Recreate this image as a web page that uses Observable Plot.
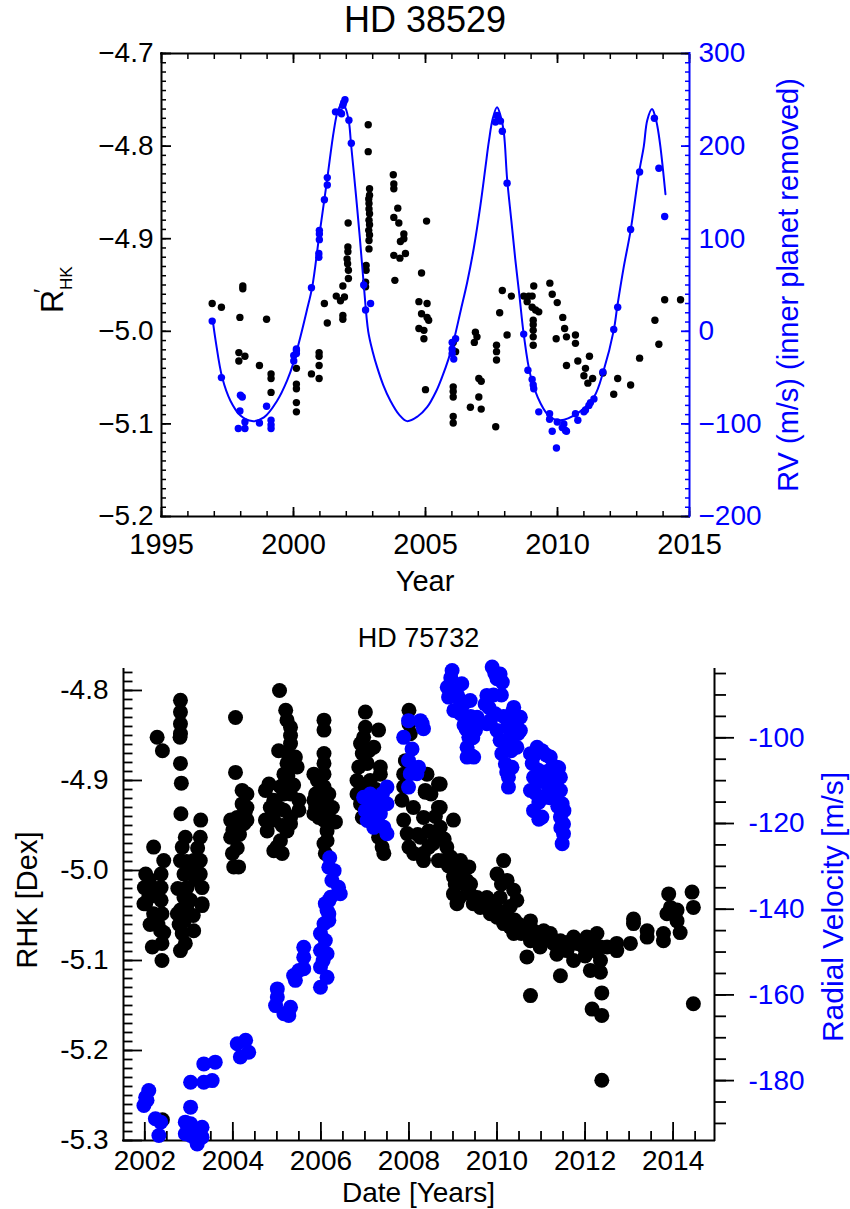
<!DOCTYPE html>
<html>
<head>
<meta charset="utf-8">
<script src="https://cdn.jsdelivr.net/npm/d3@7"></script>
<script src="https://cdn.jsdelivr.net/npm/@observablehq/plot@0.6"></script>
<style>
  html, body { margin: 0; padding: 0; background: #fff; overflow: hidden; }
  #page { position: relative; width: 850px; height: 1209px; font-family: "Liberation Sans", Arial, Helvetica, sans-serif; }
  .panel { position: absolute; left: 0; }
  .title { position: absolute; left: 0; text-align: center; color: #000; white-space: nowrap; }
</style>
</head>
<body>
<div id="page">
  <div class="panel" id="p1" style="top:0px;"></div>
  <div class="panel" id="p2" style="top:600px;"></div>
  <div class="title" id="t1" style="top:2px;width:850px;font-size:36px;line-height:36px;">HD 38529</div>
  <div class="title" id="t2" style="top:625px;width:837px;font-size:27px;line-height:27px;">HD 75732</div>
</div>
<script>
const FONT = '"Liberation Sans", Arial, Helvetica, sans-serif';

// ================= HD 38529 (top panel) =================
const xTicks38529 = [1995, 2000, 2005, 2010, 2015];
const yTicks38529 = [-5.2, -5.1, -5.0, -4.9, -4.8, -4.7];
const rvTicks38529 = [-200, -100, 0, 100, 200, 300];

// R'HK measurements [year, R'HK]
const rhk38529 = [
[1996.92,-4.970],[1997.27,-4.974],[1998.08,-4.951],[1998.08,-4.954],[1997.97,-4.985],[1997.93,-5.023],[1997.93,-5.032],[1998.16,-5.027],[1998.71,-5.037],[1998.98,-4.987],[1999.15,-5.046],[1999.15,-5.051],[1999.15,-5.066],[2000.11,-5.040],[2000.11,-5.057],[2000.11,-5.062],[2000.11,-5.077],[2000.11,-5.087],[2000.68,-5.046],[2000.97,-5.023],[2000.97,-5.027],[2000.97,-5.037],[2000.97,-5.051],[2001.17,-4.970],[2001.28,-4.991],[2001.62,-4.962],[2001.78,-4.967],[2001.93,-4.963],[2001.87,-4.951],[2001.87,-4.983],[2001.87,-4.987],[2002.07,-4.883],[2002.06,-4.909],[2002.06,-4.914],[2002.03,-4.922],[2002.05,-4.927],[2002.08,-4.934],[2002.08,-4.943],[2002.83,-4.777],[2002.83,-4.806],[2002.88,-4.846],[2002.88,-4.853],[2002.85,-4.857],[2002.86,-4.862],[2002.86,-4.868],[2002.88,-4.873],[2002.86,-4.880],[2002.88,-4.885],[2002.85,-4.891],[2002.88,-4.896],[2002.86,-4.902],[2002.86,-4.911],[2002.75,-4.929],[2002.75,-4.934],[2002.73,-4.947],[2002.73,-4.952],[2003.78,-4.831],[2003.80,-4.841],[2003.80,-4.846],[2003.95,-4.867],[2003.80,-4.877],[2003.99,-4.883],[2004.18,-4.895],[2004.18,-4.900],[2004.05,-4.903],[2003.80,-4.918],[2004.03,-4.921],[2004.24,-4.916],[2003.84,-4.945],[2005.04,-4.881],[2004.85,-4.937],[2004.75,-4.968],[2005.06,-4.970],[2004.85,-4.981],[2005.06,-4.985],[2005.12,-4.988],[2004.75,-4.997],[2004.94,-4.999],[2004.94,-5.008],[2005.00,-5.063],[2006.05,-5.012],[2006.14,-5.022],[2006.05,-5.060],[2006.05,-5.065],[2006.05,-5.071],[2006.05,-5.092],[2006.05,-5.099],[2006.70,-5.082],[2007.11,-5.084],[2007.02,-5.071],[2007.02,-5.051],[2007.11,-5.054],[2006.89,-5.001],[2006.95,-5.006],[2006.85,-5.012],[2007.69,-5.015],[2007.69,-5.022],[2007.69,-5.031],[2007.66,-5.103],[2007.81,-4.980],[2008.09,-5.004],[2007.91,-4.956],[2008.25,-4.962],[2008.72,-4.962],[2008.91,-4.962],[2009.04,-4.962],[2009.10,-4.951],[2008.85,-4.968],[2009.04,-4.974],[2009.17,-4.977],[2009.29,-4.979],[2009.08,-4.988],[2009.08,-4.993],[2009.08,-4.999],[2009.08,-5.006],[2009.08,-5.015],[2009.71,-4.948],[2009.80,-4.960],[2009.99,-4.969],[2010.20,-4.985],[2010.27,-4.997],[2010.34,-5.006],[2009.95,-5.008],[2010.68,-5.004],[2010.68,-5.013],[2010.34,-5.037],[2010.77,-5.032],[2011.21,-5.027],[2011.06,-5.040],[2011.00,-5.048],[2011.33,-5.051],[2011.15,-5.056],[2011.72,-5.045],[2012.28,-5.051],[2012.13,-5.068],[2012.77,-5.058],[2013.11,-5.029],[2013.69,-4.988],[2013.84,-5.014],[2014.06,-4.966],[2014.66,-4.966]
];

// RV measurements, inner planet removed [year, m/s]
const rv38529 = [
[1996.92,11],[1997.27,-50],[1997.99,-69],[1998.06,-71],[1997.97,-86],[1997.91,-105],[1998.16,-105],[1998.16,-98],[1998.71,-99],[1998.98,-81],[1999.15,-96],[1999.15,-101],[1999.15,-105],[2000.01,-26],[2000.11,-21],[2000.11,-24],[2000.01,-32],[2000.11,-19],[2000.68,47],[2000.96,84],[2000.96,80],[2000.98,105],[2000.98,99],[2000.98,109],[2001.17,142],[2001.28,158],[2001.28,166],[2001.59,237],[2001.75,237],[2001.82,235],[2001.87,244],[2001.90,247],[2001.95,250],[2002.10,228],[2002.19,203],[2002.66,50],[2002.73,23],[2002.92,30],[2006.01,-12],[2006.14,-8],[2006.01,-19],[2006.01,-24],[2006.07,-30],[2007.71,233],[2007.65,226],[2007.84,227],[2007.91,216],[2008.09,160],[2008.72,-3],[2008.88,-42],[2009.04,-52],[2009.10,-62],[2009.08,-58],[2009.29,-87],[2009.70,-89],[2009.70,-95],[2009.80,-108],[2009.96,-126],[2009.99,-98],[2010.24,-100],[2010.30,-107],[2010.34,-108],[2010.18,-104],[2010.68,-89],[2010.77,-96],[2011.00,-87],[2011.06,-85],[2011.19,-80],[2011.25,-77],[2011.38,-73],[2011.72,-44],[2012.13,2],[2012.28,26],[2012.77,110],[2013.11,172],[2013.67,230],[2013.84,176],[2014.06,124]
];

// Orbit fit curve [year, m/s]
const fit38529 = [
[1996.94,12],[1997.05,-10],[1997.30,-50],[1997.61,-75],[1997.99,-91],[1998.43,-97],[1998.88,-93],[1999.38,-75],[1999.76,-53],[2000.01,-33],[2000.27,-5],[2000.50,22],[2000.71,48],[2000.96,100],[2001.27,163],[2001.53,217],[2001.68,238],[2001.84,246],[2001.97,241],[2002.10,226],[2002.18,202],[2002.35,152],[2002.51,102],[2002.66,51],[2002.83,0],[2003.00,-22],[2003.17,-39],[2003.40,-58],[2003.67,-75],[2004.00,-90],[2004.30,-97],[2004.70,-92],[2005.06,-82],[2005.40,-65],[2005.62,-50],[2005.87,-30],[2006.07,-10],[2006.33,22],[2006.58,53],[2006.83,90],[2007.08,136],[2007.27,177],[2007.40,205],[2007.55,230],[2007.71,242],[2007.85,232],[2007.97,214],[2008.09,165],[2008.25,120],[2008.40,78],[2008.56,38],[2008.72,-3],[2008.98,-48],[2009.36,-78],[2009.70,-92],[2010.11,-96],[2010.74,-89],[2011.38,-71],[2011.75,-42],[2012.13,1],[2012.26,26],[2012.50,68],[2012.77,109],[2013.08,170],[2013.27,200],[2013.40,228],[2013.58,240],[2013.70,232],[2013.78,222],[2013.90,199],[2014.09,148]
];

// ================= HD 75732 (bottom panel) =================
const xTicks75732 = [2002, 2004, 2006, 2008, 2010, 2012, 2014];
const yTicks75732 = [-5.3, -5.2, -5.1, -5.0, -4.9, -4.8];
const rvTicks75732 = [-180, -160, -140, -120, -100];

// RHK measurements [year, RHK]
const rhk75732 = [
[2002.02,-5.004],[2001.99,-5.019],[2002.02,-5.037],[2002.20,-4.974],[2002.28,-4.852],[2002.40,-4.867],[2002.43,-4.989],[2002.37,-5.004],[2002.37,-5.019],[2002.37,-5.033],[2002.39,-5.048],[2002.09,-5.030],[2001.98,-5.037],[2002.20,-5.048],[2002.17,-5.085],[2002.39,-5.100],[2002.36,-5.067],[2002.43,-5.069],[2002.39,-5.081],[2002.40,-5.277],[2002.10,-5.010],[2002.25,-5.020],[2002.30,-5.060],[2002.12,-5.060],
[2002.81,-4.811],[2002.81,-4.824],[2002.81,-4.837],[2002.81,-4.848],[2002.80,-4.852],[2002.81,-4.881],[2002.83,-4.903],[2002.82,-4.937],[2003.27,-4.944],[2003.26,-4.963],[2002.92,-4.963],[2002.85,-4.974],[2002.81,-4.989],[2002.89,-5.004],[2002.96,-5.019],[2003.11,-4.989],[2003.26,-4.989],[2003.26,-5.004],[2003.30,-5.019],[2003.30,-5.037],[2002.89,-5.030],[2002.96,-5.044],[2002.81,-5.044],[2002.89,-5.056],[2002.85,-5.070],[2002.81,-5.089],[2002.92,-5.081],[2003.11,-5.067],[2003.30,-5.039],[2003.04,-5.033],[2002.74,-5.048],[2003.15,-5.010],[2003.05,-5.000],[2002.95,-4.990],[2003.20,-4.975],[2003.10,-5.050],[2002.75,-5.020],[2002.78,-5.060],
[2004.06,-4.830],[2004.06,-4.891],[2004.21,-4.911],[2004.32,-4.915],[2004.21,-4.926],[2004.32,-4.930],[2004.32,-4.944],[2004.25,-4.948],[2004.10,-4.941],[2003.95,-4.944],[2003.95,-4.963],[2003.99,-4.981],[2004.02,-4.996],[2004.13,-4.996],[2004.00,-4.955],[2004.15,-4.960],[2004.28,-4.935],[2004.10,-4.975],
[2005.06,-4.800],[2005.20,-4.822],[2005.23,-4.833],[2005.31,-4.841],[2005.31,-4.850],[2005.31,-4.859],[2005.23,-4.869],[2005.04,-4.867],[2005.23,-4.881],[2005.16,-4.893],[2005.42,-4.874],[2005.46,-4.885],[2005.50,-4.922],[2005.50,-4.933],[2005.31,-4.948],[2005.23,-4.956],[2005.08,-4.967],[2005.12,-4.981],[2004.93,-4.978],[2005.00,-4.974],[2004.78,-4.956],[2004.74,-4.944],[2004.74,-4.911],[2004.82,-4.904],[2004.93,-4.922],[2005.04,-4.930],[2004.93,-4.944],[2005.16,-4.933],[2005.31,-4.941],[2005.08,-4.907],[2005.20,-4.900],[2005.31,-4.915],[2005.16,-4.915],[2005.25,-4.895],[2005.12,-4.950],[2005.38,-4.905],[2004.85,-4.930],
[2006.07,-4.833],[2006.07,-4.844],[2006.07,-4.870],[2006.07,-4.881],[2006.07,-4.893],[2005.84,-4.893],[2005.92,-4.900],[2005.88,-4.915],[2005.84,-4.922],[2005.88,-4.930],[2005.84,-4.937],[2005.95,-4.941],[2006.07,-4.944],[2006.22,-4.944],[2006.33,-4.946],[2006.14,-4.956],[2006.14,-4.967],[2006.10,-4.981],[2006.07,-4.970],[2005.99,-4.919],[2006.07,-4.907],[2006.14,-4.926],[2006.26,-4.930],[2006.00,-4.935],[2006.18,-4.915],[2005.95,-4.925],
[2007.01,-4.824],[2007.01,-4.841],[2006.97,-4.852],[2006.90,-4.859],[2006.94,-4.870],[2007.09,-4.867],[2007.05,-4.881],[2006.86,-4.885],[2006.82,-4.900],[2006.82,-4.915],[2006.90,-4.926],[2006.94,-4.941],[2007.31,-4.844],[2007.20,-4.863],[2007.35,-4.885],[2007.35,-4.893],[2007.39,-4.974],[2007.43,-4.981],[2007.31,-4.963],[2007.39,-4.952],[2007.12,-4.900],[2007.25,-4.910],[2007.00,-4.905],[2007.30,-4.930],[2007.10,-4.940],
[2008.00,-4.822],[2008.00,-4.837],[2008.03,-4.848],[2007.92,-4.878],[2007.88,-4.893],[2007.88,-4.907],[2007.84,-4.922],[2007.88,-4.944],[2007.96,-4.959],[2008.00,-4.974],[2008.11,-4.981],[2008.33,-4.989],[2008.41,-4.893],[2008.37,-4.913],[2008.33,-4.941],[2008.45,-4.956],[2008.45,-4.974],[2008.33,-4.981],[2008.67,-4.904],[2008.67,-4.930],[2008.67,-4.956],[2008.67,-4.989],[2008.20,-4.960],[2008.10,-4.930],
[2008.71,-4.904],[2008.37,-4.911],[2008.71,-4.930],[2009.01,-4.944],[2008.71,-4.952],[2008.26,-4.963],[2008.86,-4.974],[2008.79,-4.989],[2009.17,-4.989],[2009.36,-4.996],[2009.01,-5.007],[2009.31,-5.011],[2009.01,-5.026],[2009.39,-5.026],[2009.09,-5.037],[2009.46,-5.037],[2009.77,-5.030],[2009.85,-5.041],[2010.15,-4.989],[2010.00,-5.004],[2010.23,-5.011],[2010.38,-5.022],[2010.45,-5.033],[2010.07,-5.030],[2009.10,-5.000],[2009.25,-5.015],[2008.95,-4.985],[2010.10,-5.015],[2010.30,-5.040],
[2008.80,-4.965],[2008.90,-4.995],[2009.05,-5.015],[2009.15,-5.030],[2009.20,-5.005],[2009.40,-5.015],[2009.55,-5.030],[2009.70,-5.035],[2009.95,-5.040],[2010.05,-5.045],[2010.20,-5.050],[2010.40,-5.055],[2010.50,-5.060],[2008.55,-4.970],[2008.60,-4.940],[2008.50,-4.915],
[2009.62,-5.041],[2009.85,-5.048],[2010.00,-5.052],[2010.15,-5.059],[2010.30,-5.063],[2010.38,-5.070],[2010.68,-5.063],[2010.83,-5.067],[2010.76,-5.078],[2010.68,-5.096],[2010.91,-5.070],[2011.06,-5.067],[2010.98,-5.085],[2011.21,-5.070],[2011.28,-5.081],[2011.36,-5.093],[2011.44,-5.078],[2011.59,-5.089],[2011.74,-5.074],[2011.74,-5.100],[2011.82,-5.081],[2011.97,-5.085],[2012.04,-5.074],[2012.19,-5.078],[2012.27,-5.070],[2012.35,-5.085],[2012.35,-5.100],[2012.12,-5.111],[2012.35,-5.113],[2011.44,-5.117],[2010.76,-5.139],[2012.38,-5.136],[2012.16,-5.154],[2012.38,-5.161],[2012.38,-5.233],[2012.72,-5.081],[2012.72,-5.089],[2013.03,-5.081],[2013.10,-5.059],[2013.41,-5.074],[2013.41,-5.067],[2013.78,-5.078],[2013.78,-5.070],[2013.86,-5.048],[2014.09,-5.056],[2014.16,-5.069],[2014.09,-5.044],[2014.46,-5.041],[2014.46,-5.148],[2013.90,-5.026],[2013.94,-5.041],[2014.43,-5.024],[2013.10,-5.054],[2010.76,-5.056],[2010.55,-5.070],[2011.10,-5.075],[2011.60,-5.080],[2012.50,-5.085],[2012.00,-5.095],[2012.25,-5.090],[2012.10,-5.085]
];

// Radial velocity measurements [year, m/s]
const rv75732 = [
[2002.09,-182.3],[2002.02,-183.9],[2001.98,-185.8],[2002.05,-184.6],[2002.24,-188.9],[2002.36,-189.7],[2002.32,-192.8],
[2003.04,-180.4],[2003.04,-186.2],[2002.92,-189.7],[2003.04,-190.1],[2002.92,-192.4],[2003.11,-191.6],[2003.19,-192.4],[2003.19,-194.8],[2003.30,-190.9],[2003.30,-193.2],[2003.15,-193.6],[2003.04,-192.8],[2003.00,-190.9],
[2003.34,-176.1],[2003.60,-175.7],[2003.34,-180.4],[2003.53,-180.0],
[2004.10,-171.4],[2004.29,-170.6],[2004.17,-174.5],[2004.36,-173.4],
[2005.01,-158.6],[2005.01,-160.5],[2004.97,-162.5],[2005.16,-164.4],[2005.31,-162.9],[2005.27,-164.8],
[2005.38,-155.5],[2005.42,-156.6],[2005.61,-148.9],[2005.61,-151.2],[2005.61,-153.9],[2005.50,-154.3],
[2005.99,-145.7],[2005.99,-149.6],[2005.99,-153.5],[2005.99,-158.2],[2006.07,-143.4],[2006.10,-147.3],[2006.14,-150.4],[2006.14,-155.9],[2006.18,-141.1],[2006.18,-138.0],[2006.10,-138.7],[2006.05,-152.0],
[2006.18,-130.2],[2006.25,-133.3],[2006.44,-136.4],[2006.40,-134.9],[2006.22,-137.2],[2006.14,-140.3],[2006.18,-142.6],[2006.20,-128.0],[2006.30,-131.0],
[2006.97,-113.9],[2007.12,-113.1],[2007.20,-116.2],[2007.05,-119.3],[2007.20,-120.9],[2007.35,-117.7],[2007.43,-120.9],[2007.50,-111.5],[2007.50,-115.4],[2007.50,-122.4],[2007.28,-119.3],[2007.01,-117.0],[2007.10,-116.5],[2007.30,-114.5],[2007.40,-113.0],[2007.15,-118.5],
[2007.88,-99.9],[2007.99,-96.0],[2008.26,-96.0],[2008.33,-97.9],[2008.07,-102.6],[2007.99,-105.3],[2008.03,-108.4],[2008.18,-108.4],[2007.99,-111.5],[2008.22,-106.9],[2008.30,-96.7],
[2008.98,-84.3],[2008.87,-88.2],[2008.90,-90.5],[2009.02,-93.6],[2009.17,-94.4],[2009.24,-92.1],[2009.20,-87.4],[2009.39,-91.3],[2009.47,-96.0],[2009.51,-98.3],[2009.32,-102.2],[2009.32,-104.5],[2009.47,-104.5],[2009.36,-99.9],[2009.55,-95.2],[2009.10,-90.0],[2009.25,-97.0],
[2008.95,-86.0],[2009.05,-89.0],[2009.15,-91.0],[2009.28,-95.0],[2009.40,-95.0],[2009.45,-100.0],[2009.30,-98.0],[2009.40,-104.0],
[2009.89,-83.5],[2010.07,-85.1],[2010.00,-86.2],[2009.77,-90.1],[2009.73,-92.1],[2009.85,-96.0],[2009.77,-96.7],[2009.96,-94.4],[2010.00,-98.3],[2010.07,-100.6],[2010.11,-103.7],[2010.19,-106.1],[2010.26,-109.2],[2010.26,-111.5],[2010.34,-106.9],[2010.45,-102.2],[2010.38,-92.9],[2010.53,-95.2],[2010.53,-98.3],[2010.42,-96.0],[2010.23,-97.5],[2010.10,-90.0],[2010.30,-100.0],
[2009.82,-93.0],[2009.92,-90.0],[2010.15,-95.0],[2010.20,-101.0],[2010.32,-103.0],[2010.40,-99.0],[2010.48,-99.0],[2010.22,-108.0],[2010.35,-94.0],[2009.95,-85.0],[2010.12,-87.0],
[2010.76,-103.7],[2010.91,-102.2],[2011.02,-103.0],[2011.21,-104.5],[2011.36,-106.9],[2011.44,-109.2],[2011.44,-112.3],[2011.48,-115.4],[2011.44,-118.5],[2011.51,-120.1],[2011.51,-122.4],[2011.48,-124.7],[2010.83,-109.2],[2010.76,-112.3],[2010.83,-117.0],[2011.02,-118.5],[2011.06,-113.9],[2010.94,-107.6],[2010.90,-110.0],[2011.10,-108.0],[2011.30,-110.0],[2011.20,-114.0],[2010.95,-115.0],
[2010.80,-106.0],[2010.88,-113.0],[2010.95,-119.0],[2011.00,-110.0],[2011.12,-104.0],[2011.15,-111.0],[2011.25,-107.0],[2011.32,-113.0],[2011.40,-107.0],[2011.38,-116.0],[2011.45,-121.0],[2011.52,-117.0],[2010.85,-104.0]
];

// ---------- helpers ----------
const rvToR38529 = d3.scaleLinear().domain([-200, 300]).range([-5.2, -4.7]);
const rvToR75732 = d3.scaleLinear().domain([-193.98, -84.06]).range([-5.3, -4.7767]);
const fmt1 = d3.format(".1f");
const fmtInt = d3.format("d");
const hyphen = s => s.replace(/\u2212/g, "-");
const blank = () => "";
const baseStyle = {fontFamily: FONT, background: "transparent", color: "black", overflow: "visible"};

function addText(svg, x, y, str, size, opts = {}) {
  const {fill = "black", rotate = 0, anchor = "middle"} = opts;
  return d3.select(svg).append("text")
    .attr("transform", `translate(${x},${y})` + (rotate ? ` rotate(${rotate})` : ""))
    .attr("text-anchor", anchor)
    .attr("font-size", size)
    .attr("font-family", FONT)
    .attr("fill", fill)
    .text(str);
}

// ---------- top plot ----------
const topRMinor = d3.range(-520, -469).map(d => d / 100);
const topRvMinor = d3.range(-200, 301, 10);
const topYearMinor = d3.range(1995, 2016);

const plot1 = Plot.plot({
  width: 850, height: 600,
  marginLeft: 161, marginRight: 161, marginTop: 53, marginBottom: 84,
  x: {domain: [1995, 2015]},
  y: {domain: [-5.2, -4.7]},
  style: baseStyle,
  marks: [
    Plot.axisY(topRMinor, {anchor: "left", tickSize: -5, tickFormat: blank, strokeWidth: 1.5, label: null}),
    Plot.axisY(yTicks38529, {anchor: "left", tickSize: -10, tickFormat: blank, strokeWidth: 1.8, label: null}),
    Plot.axisY(yTicks38529, {anchor: "left", tickSize: 0, tickPadding: 8, tickFormat: fmt1, fontSize: 28, label: null}),
    Plot.axisX(topYearMinor, {anchor: "bottom", tickSize: -5, tickFormat: blank, strokeWidth: 1.5, label: null}),
    Plot.axisX(xTicks38529, {anchor: "bottom", tickSize: -9, tickFormat: blank, strokeWidth: 1.8, label: null}),
    Plot.axisX(topYearMinor, {anchor: "top", tickSize: -5, tickFormat: blank, strokeWidth: 1.5, label: null}),
    Plot.axisX(xTicks38529, {anchor: "top", tickSize: -9, tickFormat: blank, strokeWidth: 1.8, label: null}),
    Plot.axisX(xTicks38529, {anchor: "bottom", tickSize: 0, tickPadding: 17, tickFormat: d => String(d), fontSize: 29, label: null}),
    Plot.axisY(topRvMinor.map(rvToR38529), {anchor: "right", tickSize: -5, tickFormat: blank, color: "blue", strokeWidth: 1.5, label: null}),
    Plot.axisY(rvTicks38529.map(rvToR38529), {anchor: "right", tickSize: -9, tickFormat: blank, color: "blue", strokeWidth: 1.8, label: null}),
    Plot.axisY(rvTicks38529.map(rvToR38529), {anchor: "right", tickSize: 0, tickPadding: 9, color: "blue", fontSize: 28, label: null,
      tickFormat: r => fmtInt(Math.round(rvToR38529.invert(r)))}),
    Plot.ruleY([-5.2], {strokeWidth: 2, strokeLinecap: "square"}),
    Plot.ruleY([-4.7], {strokeWidth: 2, strokeLinecap: "square"}),
    Plot.ruleX([1995], {strokeWidth: 2, strokeLinecap: "square"}),
    Plot.ruleX([2015], {stroke: "blue", strokeWidth: 2, strokeLinecap: "square"}),
    Plot.dot(rhk38529, {x: d => d[0], y: d => d[1], r: 3.7, fill: "black"}),
    Plot.line(fit38529, {x: d => d[0], y: d => rvToR38529(d[1]), stroke: "blue", strokeWidth: 2, curve: "catmull-rom"}),
    Plot.dot(rv38529, {x: d => d[0], y: d => rvToR38529(d[1]), r: 3.7, fill: "blue"})
  ]
});
document.getElementById("p1").appendChild(plot1);
addText(plot1, 425, 591, "Year", 29);
addText(plot1, 798, 285, "RV (m/s) (inner planet removed)", 29, {fill: "blue", rotate: -90});
addText(plot1, 63, 313, "R", 32, {rotate: -90, anchor: "start"});
addText(plot1, 72, 290, "HK", 17, {rotate: -90, anchor: "start"});
addText(plot1, 49, 293, "\u2032", 22, {rotate: -90, anchor: "start"});

// ---------- bottom plot ----------
const botRMinor = d3.range(-530, -477).map(d => d / 100);
const botYearMinor = d3.range(2002, 2014.6, 0.5);
const botRvMinor = d3.range(-190, -84, 5);

const plot2 = Plot.plot({
  width: 850, height: 609,
  marginLeft: 123, marginRight: 136, marginTop: 69, marginBottom: 69,
  x: {domain: [2001.516, 2014.94]},
  y: {domain: [-5.3, -4.7767]},
  style: baseStyle,
  marks: [
    Plot.axisY(botRMinor, {anchor: "left", tickSize: -9.5, tickFormat: blank, strokeWidth: 1.8, label: null}),
    Plot.axisY(yTicks75732, {anchor: "left", tickSize: -19, tickFormat: blank, strokeWidth: 1.8, label: null}),
    Plot.axisY(yTicks75732, {anchor: "left", tickSize: 0, tickPadding: 15, tickFormat: d => hyphen(fmt1(d)), fontSize: 28, label: null}),
    Plot.axisX(botYearMinor, {anchor: "bottom", tickSize: -9, tickFormat: blank, strokeWidth: 1.8, label: null}),
    Plot.axisX(xTicks75732, {anchor: "bottom", tickSize: -18, tickFormat: blank, strokeWidth: 1.8, label: null}),
    Plot.axisX(xTicks75732, {anchor: "bottom", tickSize: 0, tickPadding: 10, tickFormat: d => String(d), fontSize: 28, label: null}),
    Plot.axisY(botRvMinor.map(rvToR75732), {anchor: "right", tickSize: 11, tickFormat: blank, strokeWidth: 1.8, label: null}),
    Plot.axisY(rvTicks75732.map(rvToR75732), {anchor: "right", tickSize: 19, tickFormat: blank, strokeWidth: 1.8, label: null}),
    Plot.axisY(rvTicks75732.map(rvToR75732), {anchor: "right", tickSize: 0, tickPadding: 34, color: "blue", fontSize: 28, label: null,
      tickFormat: r => hyphen(fmtInt(Math.round(rvToR75732.invert(r))))}),
    Plot.ruleY([-5.3], {strokeWidth: 2, strokeLinecap: "square"}),
    Plot.ruleX([2001.516], {strokeWidth: 2, strokeLinecap: "square"}),
    Plot.ruleX([2014.94], {strokeWidth: 2, strokeLinecap: "square"}),
    Plot.dot(rhk75732, {x: d => d[0], y: d => d[1], r: 7.5, fill: "black"}),
    Plot.dot(rv75732, {x: d => d[0], y: d => rvToR75732(d[1]), r: 7.5, fill: "blue"})
  ]
});
document.getElementById("p2").appendChild(plot2);
addText(plot2, 418.5, 602, "Date [Years]", 28);
addText(plot2, 37, 300, "RHK [Dex]", 29, {rotate: -90});
addText(plot2, 843, 307, "Radial Velocity [m/s]", 30, {fill: "blue", rotate: -90});
</script>
</body>
</html>
